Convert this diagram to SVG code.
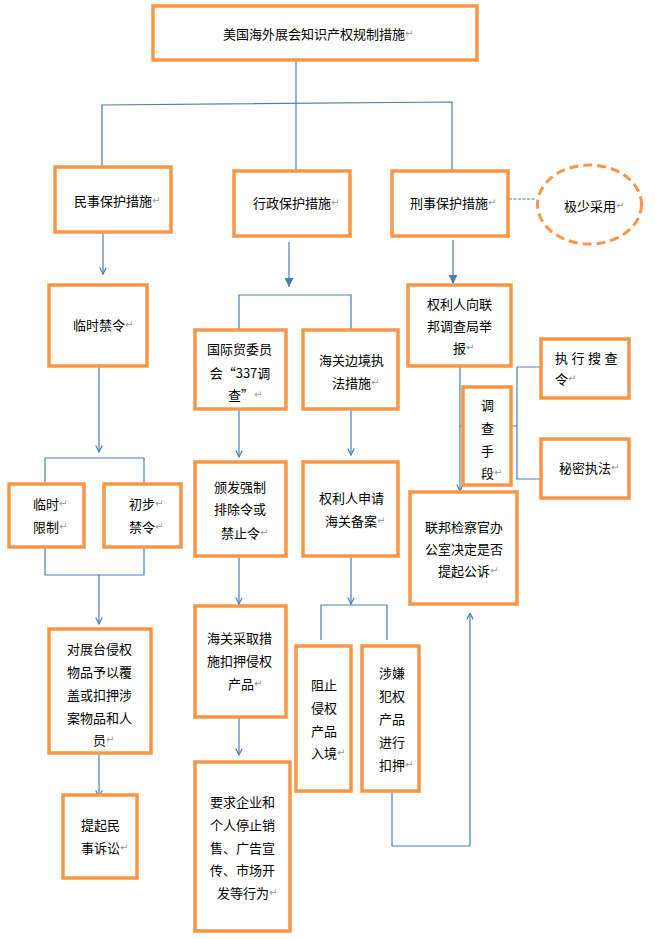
<svg xmlns="http://www.w3.org/2000/svg" width="655" height="939" viewBox="0 0 655 939">
<style>
.box{fill:#fff;stroke:#F79646;stroke-width:3.5}
.ln{fill:none;stroke:#4A7EBB;stroke-width:1.2}
text{font-family:"Noto Sans CJK SC","Noto Sans",sans-serif;font-size:13px;fill:#000;dominant-baseline:central}
.m{text-anchor:middle}
.r{fill:#999;font-size:10px;font-family:"DejaVu Sans",sans-serif}
</style>
<defs>
<marker id="open" markerUnits="userSpaceOnUse" viewBox="0 0 8 8" refX="7.5" refY="4" markerWidth="8" markerHeight="8" orient="auto">
<path d="M1,0.8 L7.5,4 L1,7.2" fill="none" stroke="#4A7EBB" stroke-width="1.2"/>
</marker>
<marker id="fill" markerUnits="userSpaceOnUse" viewBox="0 0 10 10" refX="10" refY="5" markerWidth="10" markerHeight="9" orient="auto">
<path d="M0,0 L10,5 L0,10 z" fill="#4A7EBB"/>
</marker>
</defs>

<g id="connectors">
<path class="ln" d="M296,60 V170"/>
<path class="ln" d="M102,167 V105 L452,102 V170"/>
<path class="ln" d="M509,199 H536" stroke-dasharray="3,1.5"/>
<path class="ln" d="M103,232 V274" marker-end="url(#open)"/>
<path class="ln" d="M289,242 V287" marker-end="url(#fill)"/>
<path class="ln" d="M453,240 V284" marker-end="url(#fill)"/>
<path class="ln" d="M239,329 V295 H351 V329"/>
<path class="ln" d="M99,367 V452" marker-end="url(#open)"/>
<path class="ln" d="M45,483 V458 H144 V483"/>
<path class="ln" d="M45,547 V575 H144 V547"/>
<path class="ln" d="M99,575 V624" marker-end="url(#open)"/>
<path class="ln" d="M99,753 V797" marker-end="url(#open)"/>
<path class="ln" d="M239,409 V457" marker-end="url(#open)"/>
<path class="ln" d="M239,556 V604" marker-end="url(#open)"/>
<path class="ln" d="M239,717 V755" marker-end="url(#open)"/>
<path class="ln" d="M351,409 V455" marker-end="url(#open)"/>
<path class="ln" d="M351,556 V604" marker-end="url(#open)"/>
<path class="ln" d="M321,640 V605 H387 V640"/>
<path class="ln" d="M460,367 V491" marker-end="url(#open)"/>
<path class="ln" d="M460,426 H463"/>
<path class="ln" d="M511,426 H517 M541,367 H517 V479 H541"/>
<path class="ln" d="M392,791 V846 H470 V613" marker-end="url(#open)"/>
</g>

<g id="n_top"><rect class="box" x="153" y="6" width="324" height="54"/>
<text x="223" y="33">美国海外展会知识产权规制措施<tspan class="r">↵</tspan></text></g>

<g id="n_civil"><rect class="box" x="55" y="167" width="116" height="65"/>
<text x="74" y="200">民事保护措施<tspan class="r">↵</tspan></text></g>

<g id="n_admin"><rect class="box" x="234" y="171" width="116" height="65"/>
<text x="253" y="202">行政保护措施<tspan class="r">↵</tspan></text></g>

<g id="n_crim"><rect class="box" x="392" y="171" width="116" height="65"/>
<text x="410" y="202">刑事保护措施<tspan class="r">↵</tspan></text></g>

<g id="n_rare"><ellipse cx="589.5" cy="204.5" rx="52" ry="39.5" fill="#fff" stroke="#F79646" stroke-width="3" stroke-dasharray="9,5"/>
<text x="564" y="205">极少采用<tspan class="r">↵</tspan></text></g>

<g id="n_tro"><rect class="box" x="49" y="285" width="98" height="81"/>
<text x="73" y="324">临时禁令<tspan class="r">↵</tspan></text></g>

<g id="n_tmp"><rect class="box" x="9" y="484" width="75" height="63"/>
<text x="33" y="503">临时<tspan class="r">↵</tspan></text>
<text x="33" y="526">限制<tspan class="r">↵</tspan></text></g>

<g id="n_pre"><rect class="box" x="104" y="484" width="77" height="63"/>
<text x="129" y="503">初步<tspan class="r">↵</tspan></text>
<text x="129" y="526">禁令<tspan class="r">↵</tspan></text></g>

<g id="n_cover"><rect class="box" x="49" y="629" width="102" height="124"/>
<text x="67" y="648">对展台侵权</text>
<text x="67" y="671">物品予以覆</text>
<text x="67" y="694">盖或扣押涉</text>
<text x="67" y="717">案物品和人</text>
<text x="93" y="739">员<tspan class="r">↵</tspan></text></g>

<g id="n_suit"><rect class="box" x="63" y="795" width="74" height="83"/>
<text x="81" y="824">提起民</text>
<text x="81" y="847">事诉讼<tspan class="r">↵</tspan></text></g>

<g id="n_337"><rect class="box" x="195" y="330" width="91" height="79"/>
<text x="207" y="348">国际贸委员</text>
<text x="240" y="372" class="m">会“337调</text>
<text x="228" y="394">查”<tspan class="r">↵</tspan></text></g>

<g id="n_order"><rect class="box" x="195" y="462" width="91" height="94"/>
<text x="214" y="486">颁发强制</text>
<text x="214" y="508">排除令或</text>
<text x="221" y="532">禁止令<tspan class="r">↵</tspan></text></g>

<g id="n_seize"><rect class="box" x="195" y="606" width="91" height="111"/>
<text x="207" y="637">海关采取措</text>
<text x="207" y="660">施扣押侵权</text>
<text x="228" y="683">产品<tspan class="r">↵</tspan></text></g>

<g id="n_stop"><rect class="box" x="195" y="762" width="95" height="169"/>
<text x="210" y="801">要求企业和</text>
<text x="210" y="824">个人停止销</text>
<text x="210" y="847">售、广告宣</text>
<text x="210" y="869">传、市场开</text>
<text x="217" y="892">发等行为<tspan class="r">↵</tspan></text></g>

<g id="n_border"><rect class="box" x="303" y="330" width="95" height="79"/>
<text x="319" y="359">海关边境执</text>
<text x="332" y="382">法措施<tspan class="r">↵</tspan></text></g>

<g id="n_record"><rect class="box" x="303" y="462" width="95" height="94"/>
<text x="319" y="497">权利人申请</text>
<text x="325" y="520">海关备案<tspan class="r">↵</tspan></text></g>

<g id="n_block"><rect class="box" x="296" y="646" width="55" height="145"/>
<text x="311" y="684">阻止</text>
<text x="311" y="707">侵权</text>
<text x="311" y="730">产品</text>
<text x="311" y="752">入境<tspan class="r">↵</tspan></text></g>

<g id="n_detain"><rect class="box" x="362" y="646" width="57" height="145"/>
<text x="379" y="672">涉嫌</text>
<text x="379" y="695">犯权</text>
<text x="379" y="718">产品</text>
<text x="379" y="741">进行</text>
<text x="379" y="764">扣押<tspan class="r">↵</tspan></text></g>

<g id="n_fbi"><rect class="box" x="408" y="285" width="103" height="81"/>
<text x="427" y="303">权利人向联</text>
<text x="427" y="325">邦调查局举</text>
<text x="453" y="347">报<tspan class="r">↵</tspan></text></g>

<g id="n_means"><rect class="box" x="463" y="387" width="48" height="98"/>
<text x="481" y="404">调</text>
<text x="481" y="427">查</text>
<text x="481" y="450">手</text>
<text x="481" y="472">段<tspan class="r">↵</tspan></text></g>

<g id="n_warrant"><rect class="box" x="541" y="339" width="88" height="59"/>
<text x="555" y="357" letter-spacing="3.5">执行搜查</text>
<text x="555" y="378">令<tspan class="r">↵</tspan></text></g>

<g id="n_covert"><rect class="box" x="541" y="439" width="88" height="59"/>
<text x="559" y="467">秘密执法<tspan class="r">↵</tspan></text></g>

<g id="n_pros"><rect class="box" x="410" y="492" width="107" height="112"/>
<text x="425" y="526">联邦检察官办</text>
<text x="425" y="548">公室决定是否</text>
<text x="438" y="570">提起公诉<tspan class="r">↵</tspan></text></g>
</svg>
